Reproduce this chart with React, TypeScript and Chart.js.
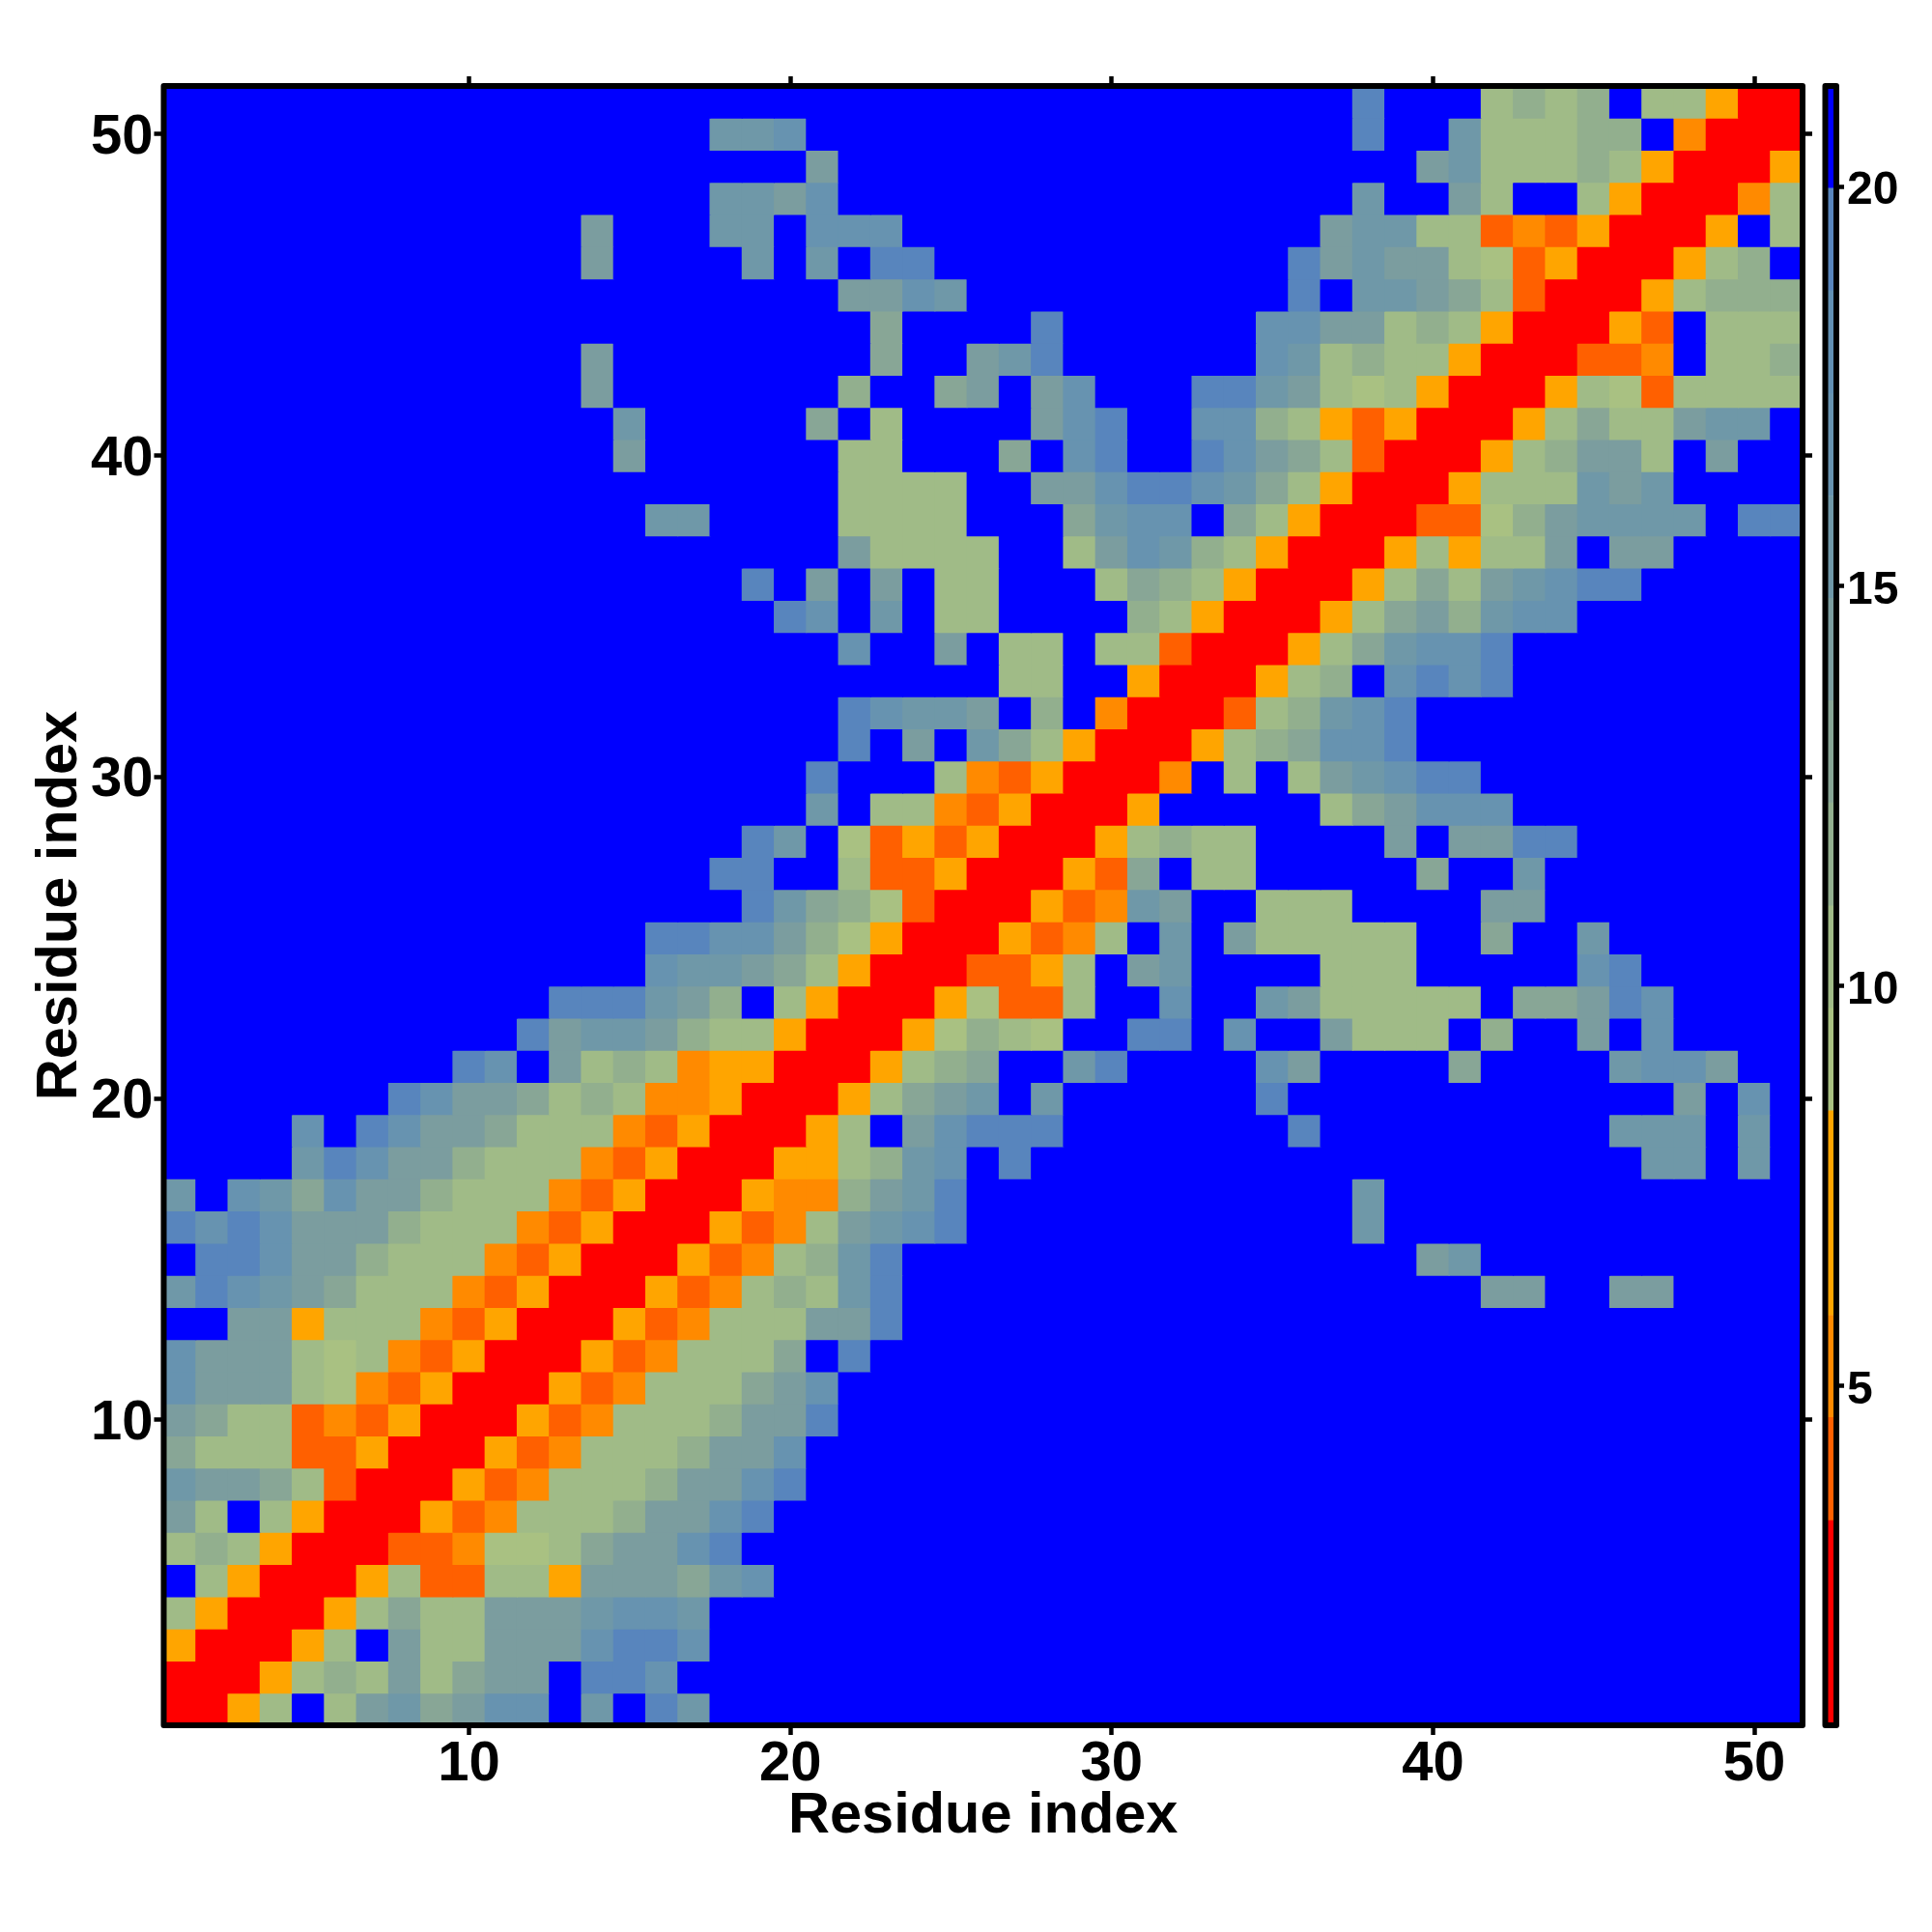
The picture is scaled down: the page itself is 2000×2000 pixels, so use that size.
import React, { useEffect, useRef } from "react";
import { Chart, registerables } from "chart.js";

Chart.register(...registerables);

// Distance (Angstrom) for residue pairs; each row starts on the diagonal and the matrix is symmetric.
const noContact = 21;
const upperRows: number[][] = [
  [1,3,7,10,21,10,14,15,13,14,17,17,21,15,21,19,15],
  [1,3,7,10,12,10,14,10,13,14,14,21,19,19,17],
  [1,3,7,10,21,14,10,10,14,14,14,17,19,19,17],
  [1,3,7,10,13,10,10,14,14,14,15,17,17,15],
  [1,3,7,10,4,4,10,10,7,14,14,14,13,15,17],
  [1,3,4,4,5,9,9,10,13,14,14,17,19],
  [1,3,7,4,5,10,10,10,12,14,14,17,19],
  [1,3,7,4,5,10,10,10,12,14,14,17,19],
  [1,3,7,4,5,10,10,10,12,14,14,17],
  [1,3,7,4,5,10,10,10,12,14,14,19],
  [1,3,7,4,5,10,10,10,13,14,17],
  [1,3,7,4,5,10,10,10,13,21,19],
  [1,3,7,4,5,10,10,10,14,14,19],
  [1,3,7,4,5,10,12,10,15,19,21,21,21,21,21,21,21,21,21,21,21,21,21,21,21,21,21,21,14,14,21,21,14,14],
  [1,3,7,4,5,10,12,15,19,21,21,21,21,21,21,21,21,21,21,21,21,21,21,21,21,14,15],
  [1,3,7,4,5,10,14,15,17,19,21,21,21,21,21,21,21,21,21,21,21,21,15],
  [1,3,7,5,5,12,14,15,19,21,21,21,21,21,21,21,21,21,21,21,21,15],
  [1,3,7,7,10,12,15,17,21,19,21,21,21,21,21,21,21,21,21,21,21,21,21,21,21,21,21,21,21,15,15,21,15],
  [1,3,7,10,21,14,17,19,19,19,21,21,21,21,21,21,21,19,21,21,21,21,21,21,21,21,21,15,15,15,21,15],
  [1,3,7,10,13,14,15,21,15,21,21,21,21,21,21,19,21,21,21,21,21,21,21,21,21,21,21,21,14,21,17],
  [1,3,7,10,12,13,21,21,15,19,21,21,21,21,17,14,21,21,21,21,13,21,21,21,21,15,17,17,14],
  [1,3,7,9,12,10,9,21,21,19,19,21,17,21,21,14,10,10,10,21,12,21,21,14,21,17],
  [1,3,7,9,4,4,10,21,21,17,21,21,15,14,10,10,10,10,10,21,13,13,14,19,17],
  [1,3,4,4,7,10,21,14,15,21,21,21,21,10,10,10,21,21,21,21,21,17,19],
  [1,3,7,4,5,10,21,15,21,14,10,10,10,10,10,21,21,13,21,21,15],
  [1,3,7,4,5,15,14,21,21,10,10,10,21,21,21,21,14,14],
  [1,3,7,4,13,21,10,10,21,21,21,21,21,13,21,21,15],
  [1,3,7,10,12,10,10,21,21,21,21,14,21,14,14,19,19],
  [1,3,7,21,21,21,21,21,10,13,14,17,17,17],
  [1,3,5,21,10,21,10,14,15,17,19,19],
  [1,3,7,10,12,13,17,17,19],
  [1,3,4,10,12,15,17,19],
  [1,3,7,10,12,21,17,19,17,19],
  [1,3,7,10,13,15,17,17,19],
  [1,3,7,10,13,14,12,15,17,17],
  [1,3,7,10,13,10,14,15,17,19,19],
  [1,3,7,10,7,10,10,14,21,14,14],
  [1,3,4,4,9,12,14,15,15,15,15,21,19,19],
  [1,3,7,10,10,10,15,14,15],
  [1,3,7,10,12,14,14,10,21,14],
  [1,3,7,10,13,10,10,14,15,15],
  [1,3,7,10,9,4,10,10,10,10],
  [1,3,4,4,5,21,10,10,12],
  [1,3,7,4,21,10,10,10],
  [1,3,7,10,12,12,12],
  [1,3,7,10,12,21],
  [1,3,7,21,10],
  [1,3,5,10],
  [1,3,7],
  [1,3],
  [1],
];

const residueTicks = [10, 20, 30, 40, 50];
const colorbarTicks = [5, 10, 15, 20];
const binEdges = [0.75, 2.03, 3.31, 4.6, 5.88, 7.16, 8.44, 9.72, 11, 12.29, 13.57, 14.85, 16.13, 17.41, 18.7, 19.98, 21.26];
const binColors = [
  "#ff0000", "#ff0000", "#ff6000", "#ff8a00", "#ffa500", "#ffa500",
  "#a9c182", "#a0bb87", "#92af8e", "#88a696", "#7b9d9f", "#6f98a8",
  "#6793b0", "#6290b3", "#5885bd", "#0000ff",
];
const axisTitle = "Residue index";
const fontFamily = "'Liberation Sans', Arial, sans-serif";

const colorOf = (v: number) => {
  for (let i = 0; i < binColors.length; i++) if (v < binEdges[i + 1]) return binColors[i];
  return binColors[binColors.length - 1];
};

const n = upperRows.length;
const matrixCells: { x: number; y: number; v: number }[] = [];
const lookup = (r: number, c: number) => {
  const a = Math.min(r, c), b = Math.max(r, c);
  const row = upperRows[a - 1];
  const v = row[b - a];
  return v === undefined ? noContact : v;
};
for (let r = 1; r <= n; r++) for (let c = 1; c <= n; c++) matrixCells.push({ x: c, y: r, v: lookup(r, c) });

const framePlugin = {
  id: "frame",
  afterDraw(chart: any) {
    const { left, top, width, height } = chart.chartArea;
    const ctx = chart.ctx;
    ctx.save();
    ctx.lineWidth = 6;
    ctx.strokeStyle = "#000";
    ctx.lineJoin = "round";
    ctx.strokeRect(left, top, width, height);
    ctx.restore();
  },
};

const setTicks = (values: number[]) => (scale: any) => {
  scale.ticks = values.map((value) => ({ value }));
};
const sized = (prop: "width" | "height", size: number) => (scale: any) => {
  scale[prop] = size;
};
const tickGrid = (len: number) => ({
  drawOnChartArea: false,
  drawTicks: true,
  tickLength: len,
  tickWidth: 4.5,
  tickColor: "#000",
});

export default function App() {
  const heatRef = useRef<HTMLCanvasElement>(null);
  const barRef = useRef<HTMLCanvasElement>(null);

  useEffect(() => {
    const range = { type: "linear" as const, min: 0.5, max: 51.5 };
    const heat = new Chart(heatRef.current as HTMLCanvasElement, {
      type: "scatter",
      data: {
        datasets: [
          {
            data: matrixCells as any,
            pointStyle: "rect",
            pointBorderWidth: 0,
            pointRadius: (ctx: any) => (ctx.chart.scales.x.width / 51 + 1) / Math.SQRT2,
            pointBackgroundColor: (ctx: any) => colorOf(ctx.raw.v),
          } as any,
        ],
      },
      options: {
        animation: false,
        responsive: false,
        devicePixelRatio: 1,
        events: [],
        layout: { padding: 0 },
        plugins: { legend: { display: false }, tooltip: { enabled: false } },
        scales: {
          x: {
            ...range,
            position: "bottom",
            afterBuildTicks: setTicks(residueTicks),
            afterFit: sized("height", 214),
            grid: tickGrid(10),
            border: { display: false },
            ticks: { color: "#000", padding: -4, maxRotation: 0, font: { family: fontFamily, size: 58, weight: "bold" } },
            title: { display: true, text: axisTitle, color: "#000", padding: { top: 0, bottom: 90 }, font: { family: fontFamily, size: 59.5, weight: "bold", lineHeight: 1 } },
          },
          x2: {
            ...range,
            position: "top",
            afterBuildTicks: setTicks(residueTicks),
            afterFit: sized("height", 89),
            grid: tickGrid(10),
            border: { display: false },
            ticks: { display: false },
          },
          y: {
            ...range,
            position: "left",
            afterBuildTicks: setTicks(residueTicks),
            afterFit: sized("width", 169.5),
            grid: tickGrid(10),
            border: { display: false },
            ticks: { color: "#000", padding: 1, labelOffset: 4, font: { family: fontFamily, size: 58, weight: "bold" } },
            title: { display: true, text: axisTitle, color: "#000", padding: { top: 33, bottom: 0 }, font: { family: fontFamily, size: 59.5, weight: "bold", lineHeight: 1 } },
          },
          y2: {
            ...range,
            position: "right",
            afterBuildTicks: setTicks(residueTicks),
            afterFit: sized("width", 134),
            grid: tickGrid(10),
            border: { display: false },
            ticks: { display: false },
          },
        } as any,
      },
      plugins: [framePlugin],
    });

    const barRange = { type: "linear" as const, min: binEdges[0], max: binEdges[binEdges.length - 1] };
    const bar = new Chart(barRef.current as HTMLCanvasElement, {
      type: "bar",
      data: {
        labels: ["Distance"],
        datasets: binColors.map((color, i) => ({
          data: [[binEdges[i], binEdges[i + 1]]] as any,
          backgroundColor: color,
          borderWidth: 0,
          grouped: false,
          barPercentage: 1,
          categoryPercentage: 1,
          yAxisID: "y",
        })),
      },
      options: {
        animation: false,
        responsive: false,
        devicePixelRatio: 1,
        events: [],
        layout: { padding: 0 },
        plugins: { legend: { display: false }, tooltip: { enabled: false } },
        scales: {
          x: {
            position: "bottom",
            afterFit: sized("height", 214),
            grid: { display: false },
            border: { display: false },
            ticks: { display: false },
          },
          xTop: {
            type: "category",
            axis: "x",
            position: "top",
            afterFit: sized("height", 89),
            grid: { display: false },
            border: { display: false },
            ticks: { display: false },
          },
          y: {
            ...barRange,
            position: "right",
            afterBuildTicks: setTicks(colorbarTicks),
            afterFit: sized("width", 99),
            grid: tickGrid(8),
            border: { display: false },
            ticks: { color: "#000", padding: 3, labelOffset: 5, font: { family: fontFamily, size: 48, weight: "bold" } },
          },
          yLeft: {
            ...barRange,
            axis: "y",
            position: "left",
            afterBuildTicks: setTicks([]),
            afterFit: sized("width", 19.5),
            grid: { display: false },
            border: { display: false },
            ticks: { display: false },
          },
        } as any,
      },
      plugins: [framePlugin],
    });

    return () => {
      heat.destroy();
      bar.destroy();
    };
  }, []);

  return (
    <div style={{ position: "absolute", left: 0, top: 0, width: 2000, height: 2000, background: "#fff" }}>
      <canvas ref={heatRef} width={2000} height={2000} style={{ position: "absolute", left: 0, top: 0 }} />
      <canvas ref={barRef} width={130} height={2000} style={{ position: "absolute", left: 1870, top: 0 }} />
    </div>
  );
}
